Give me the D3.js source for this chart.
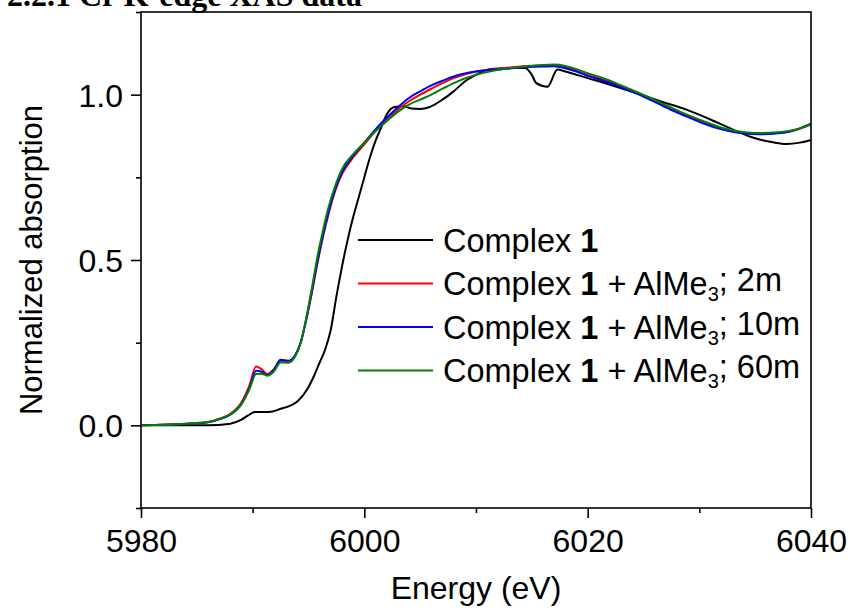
<!DOCTYPE html>
<html>
<head>
<meta charset="utf-8">
<script src="https://cdn.jsdelivr.net/npm/d3@7"></script>
<style>
  body { margin: 0; background: #fff; }
  text { font-family: "Liberation Sans", Arial, sans-serif; }
</style>
</head>
<body>
<script>
const width = 851,
  height = 612;
const margin = { top: 12, right: 40, bottom: 104, left: 141 };
const innerWidth = width - margin.left - margin.right;
const innerHeight = height - margin.top - margin.bottom;

// Complex 1 (black)
const energyBlack = [5980, 5986, 5988, 5989, 5989.6, 5990.2, 5991, 5991.8, 5992.5, 5993.1, 5994, 5994.9, 5995.5,
  5996, 5996.5, 5997, 5997.5, 5998, 5998.5, 5999, 5999.5, 6000, 6000.5, 6001, 6001.5, 6002, 6002.7, 6003.5,
  6004.2, 6005, 6005.8, 6007, 6008, 6009, 6010, 6011.1, 6012.5, 6014.4, 6015, 6015.4, 6016.4, 6017.3, 6018,
  6020, 6022, 6024.4, 6026.5, 6028.9, 6031, 6033.1, 6035, 6036.6, 6037.8, 6039, 6040];
const absBlack = [0, 0, 0.005, 0.017, 0.03, 0.04, 0.04, 0.042, 0.05, 0.056, 0.072, 0.11, 0.15,
  0.19, 0.23, 0.29, 0.39, 0.48, 0.56, 0.63, 0.69, 0.75, 0.81, 0.86, 0.9, 0.94, 0.963, 0.965,
  0.958, 0.957, 0.962, 0.985, 1.01, 1.04, 1.06, 1.076, 1.08, 1.081, 1.06, 1.035, 1.024, 1.076, 1.07,
  1.05, 1.03, 1.004, 0.98, 0.954, 0.925, 0.893, 0.868, 0.856, 0.851, 0.855, 0.863];

// AlMe3 series share one energy grid
const energyAl = [5980, 5984, 5986, 5987, 5988, 5989, 5989.7, 5990.3, 5990.8, 5991.3, 5991.9, 5992.5, 5993.2,
  5993.8, 5994.3, 5994.8, 5995.3, 5995.8, 5996.3, 5996.8, 5997.4, 5998, 5999, 6000, 6001, 6002, 6003, 6004,
  6005, 6006, 6007, 6008, 6010, 6012, 6014, 6016, 6017, 6018, 6019, 6020, 6021.4, 6023, 6024.4, 6026,
  6027.4, 6029, 6030.2, 6032, 6033.2, 6035.3, 6037, 6038, 6039, 6040];
const abs2m = [0, 0.005, 0.01, 0.02, 0.035, 0.07, 0.12, 0.178, 0.17, 0.155, 0.17, 0.195, 0.19,
  0.21, 0.25, 0.32, 0.40, 0.49, 0.57, 0.64, 0.71, 0.76, 0.81, 0.85, 0.89, 0.925, 0.955, 0.98,
  1.0, 1.018, 1.035, 1.05, 1.07, 1.078, 1.085, 1.088, 1.088, 1.083, 1.072, 1.06, 1.045, 1.025, 1.006, 0.982,
  0.959, 0.935, 0.918, 0.897, 0.888, 0.881, 0.884, 0.888, 0.897, 0.91];
const abs10m = [0, 0.004, 0.009, 0.018, 0.032, 0.065, 0.112, 0.165, 0.162, 0.152, 0.168, 0.198, 0.195,
  0.212, 0.25, 0.32, 0.405, 0.495, 0.575, 0.645, 0.715, 0.765, 0.815, 0.855, 0.895, 0.93, 0.962, 0.99,
  1.01, 1.028, 1.042, 1.055, 1.07, 1.076, 1.082, 1.085, 1.086, 1.08, 1.07, 1.057, 1.042, 1.022, 1.003, 0.978,
  0.955, 0.932, 0.915, 0.895, 0.886, 0.88, 0.883, 0.888, 0.898, 0.912];
const abs60m = [0, 0.005, 0.01, 0.019, 0.033, 0.064, 0.108, 0.155, 0.156, 0.15, 0.163, 0.19, 0.19,
  0.208, 0.25, 0.325, 0.415, 0.51, 0.59, 0.66, 0.725, 0.775, 0.82, 0.855, 0.89, 0.92, 0.948, 0.97,
  0.985, 1.0, 1.018, 1.035, 1.06, 1.075, 1.084, 1.09, 1.091, 1.087, 1.077, 1.065, 1.05, 1.028, 1.008, 0.984,
  0.962, 0.938, 0.922, 0.9, 0.891, 0.884, 0.886, 0.89, 0.898, 0.912];

const seriesNames = ["Complex 1", "Complex 1 + AlMe3; 2m", "Complex 1 + AlMe3; 10m", "Complex 1 + AlMe3; 60m"];
const seriesColors = ["#000000", "#ff0000", "#0000ff", "#008000"];

const xTicks = [5980, 6000, 6020, 6040];
const xMinorTicks = [5990, 6010, 6030];
const yTicks = [0.0, 0.5, 1.0];
const yMinorTicks = [-0.25, 0.25, 0.75, 1.25];

const series = [
  { x: energyBlack, y: absBlack },
  { x: energyAl, y: abs2m },
  { x: energyAl, y: abs10m },
  { x: energyAl, y: abs60m }
];

const xScale = d3.scaleLinear().domain([5980, 6040]).range([0, innerWidth]);
const yScale = d3.scaleLinear().domain([-0.25, 1.25]).range([innerHeight, 0]);

const svg = d3
  .select("body")
  .append("svg")
  .attr("width", width)
  .attr("height", height);

// section heading cut off at the top of the page
svg
  .append("text")
  .attr("x", 7)
  .attr("y", 6)
  .style("font-family", "'Liberation Serif', 'Times New Roman', serif")
  .style("font-weight", "bold")
  .style("font-size", "32px")
  .text("2.2.1 Cr K-edge XAS data");

const mainG = svg
  .append("g")
  .attr("transform", `translate(${margin.left},${margin.top})`);

const line = d3
  .line()
  .x(d => xScale(d[0]))
  .y(d => yScale(d[1]))
  .curve(d3.curveMonotoneX);

// draw black first, then red, blue, green on top
series.forEach((s, i) => {
  mainG
    .append("path")
    .datum(s.x.map((e, j) => [e, s.y[j]]))
    .attr("fill", "none")
    .attr("stroke", seriesColors[i])
    .attr("stroke-width", 2)
    .attr("stroke-linejoin", "round")
    .attr("d", line);
});

// frame
mainG
  .append("rect")
  .attr("width", innerWidth)
  .attr("height", innerHeight)
  .attr("fill", "none")
  .attr("stroke", "#000")
  .attr("stroke-width", 1.6);

// axes
const xAxis = d3
  .axisBottom(xScale)
  .tickValues(xTicks)
  .tickFormat(d3.format("d"))
  .tickSize(10)
  .tickPadding(11);
const xMinor = d3.axisBottom(xScale).tickValues(xMinorTicks).tickSize(5).tickFormat("");

const yAxis = d3
  .axisLeft(yScale)
  .tickValues(yTicks)
  .tickFormat(d3.format(".1f"))
  .tickSize(10)
  .tickPadding(8);
const yMinor = d3.axisLeft(yScale).tickValues(yMinorTicks).tickSize(5).tickFormat("");

const gx = mainG.append("g").attr("transform", `translate(0,${innerHeight})`).call(xAxis);
mainG.append("g").attr("transform", `translate(0,${innerHeight})`).call(xMinor);
const gy = mainG.append("g").call(yAxis);
mainG.append("g").call(yMinor);

mainG.selectAll(".domain").remove();
mainG.selectAll(".tick line").attr("stroke", "#000").attr("stroke-width", 1.6);
gx.selectAll("text").style("font-size", "32px").attr("fill", "#000");
gy.selectAll("text").style("font-size", "32px").attr("fill", "#000").attr("dy", "0.36em");

// axis titles
mainG
  .append("text")
  .attr("x", innerWidth / 2)
  .attr("y", innerHeight + 91)
  .attr("text-anchor", "middle")
  .style("font-size", "32px")
  .text("Energy (eV)");

mainG
  .append("text")
  .attr("transform", "rotate(-90)")
  .attr("x", -yScale(0.5))
  .attr("y", -99)
  .attr("text-anchor", "middle")
  .style("font-size", "31px")
  .text("Normalized absorption");

// legend
const legend = mainG.append("g").attr("transform", "translate(217,228)");
seriesNames.forEach((name, i) => {
  const row = legend.append("g").attr("transform", `translate(0,${i * 43.5})`);
  row
    .append("line")
    .attr("x1", 0)
    .attr("x2", 75)
    .attr("stroke", seriesColors[i])
    .attr("stroke-width", 2);
  const t = row
    .append("text")
    .attr("x", 85)
    .attr("dy", "0.36em")
    .style("font-size", "32.5px");
  t.append("tspan").text("Complex ");
  t.append("tspan").style("font-weight", "bold").text("1");
  if (i > 0) {
    const rest = name.split("AlMe3")[1];
    t.append("tspan").text(" + AlMe");
    t.append("tspan").attr("dy", "0.3em").style("font-size", "20px").text("3");
    t.append("tspan").attr("dy", "-0.3em").text(rest);
  }
});
</script>
</body>
</html>
